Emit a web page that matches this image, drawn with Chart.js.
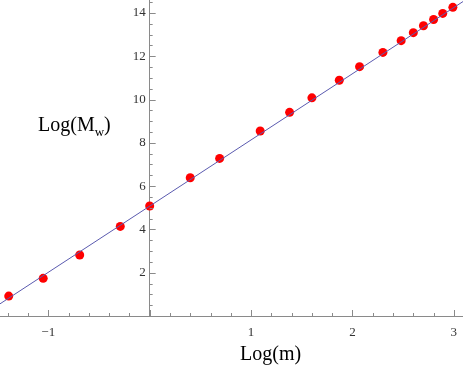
<!DOCTYPE html>
<html>
<head>
<meta charset="utf-8">
<script src="https://cdn.jsdelivr.net/npm/chart.js@4"></script>
<style>
    html, body { margin: 0; padding: 0; background: #fff; }
    #wrap { position: relative; width: 463px; height: 367px; }
    .axis-title {
        position: absolute;
        font-family: 'Liberation Serif', 'DejaVu Serif', serif;
        font-size: 20px;
        color: #000;
        white-space: nowrap;
        line-height: 1;
    }
    .axis-title sub { font-size: 13px; vertical-align: -5px; }
</style>
</head>
<body>
<div id="wrap">
    <canvas id="chart" width="463" height="367"></canvas>
    <div class="axis-title" style="left:38px; top:114px;">Log(M<sub>w</sub>)</div>
    <div class="axis-title" style="left:240px; top:343px;">Log(m)</div>
</div>
<script>
const logM  = [-1.39, -1.05, -0.69, -0.29, 0.00, 0.40, 0.69, 1.09, 1.38, 1.60, 1.87, 2.07, 2.30, 2.48, 2.60, 2.70, 2.80, 2.89, 2.99];
const logMw = [0.92, 1.74, 2.82, 4.14, 5.08, 6.39, 7.28, 8.55, 9.41, 10.08, 10.89, 11.52, 12.18, 12.72, 13.09, 13.41, 13.70, 13.98, 14.26];

// fitted straight line, its two ends
const fitX = [-1.48, 3.12];
const fitY = [0.55, 14.62];

// tick labels
const xTickLabels = [-1, 1, 2, 3];
const yTickLabels = [2, 4, 6, 8, 10, 12, 14];

const AXIS_COLOR = '#8a8a8a';
const LABEL_FONT = { family: "'Liberation Serif', serif", size: 13 };

// floating axes still push the plot area in by half a label, drop that
function noScalePadding(scale) {
    scale.paddingTop = 0;
    scale.paddingBottom = 0;
    scale.paddingLeft = 0;
    scale.paddingRight = 0;
}

// y labels on a floating axis sit flush on the line, move them off a bit
const yLabelGap = {
    id: 'yLabelGap',
    beforeDraw(chart) {
        const ys = chart.scales.y;
        if (!ys._computeLabelItems) return;
        ys._labelItems = ys._computeLabelItems(chart.chartArea);
        ys._labelItems.forEach(item => { item.options.translation[0] -= 4; });
    }
};

// Mathematica style inward tick marks (major + minor)
const innerTicks = {
    id: 'innerTicks',
    afterDatasetsDraw(chart) {
        const ctx = chart.ctx;
        const xs = chart.scales.x, ys = chart.scales.y;
        const x0 = xs.getPixelForValue(0);
        const y0 = ys.getPixelForValue(0);
        ctx.save();
        ctx.strokeStyle = AXIS_COLOR;
        ctx.lineWidth = 1;
        ctx.beginPath();
        for (let i = Math.ceil(xs.min / 0.2); i * 0.2 <= xs.max; i++) {
            const v = i * 0.2;
            const major = i % 5 === 0;
            const px = Math.round(xs.getPixelForValue(v)) + 0.5;
            ctx.moveTo(px, y0);
            ctx.lineTo(px, y0 - (major ? 6 : 3));
        }
        for (let i = 1; i * 0.5 <= ys.max; i++) {
            const v = i * 0.5;
            const major = i % 4 === 0;
            const py = Math.round(ys.getPixelForValue(v)) + 0.5;
            ctx.moveTo(x0, py);
            ctx.lineTo(x0 + (major ? 6 : 3), py);
        }
        ctx.stroke();
        ctx.restore();
    }
};

new Chart(document.getElementById('chart'), {
    type: 'scatter',
    data: {
        datasets: [
            {
                type: 'line',
                data: fitX.map((x, i) => ({ x: x, y: fitY[i] })),
                borderColor: 'rgb(90, 90, 175)',
                borderWidth: 1,
                pointRadius: 0,
                fill: false,
                order: 0
            },
            {
                data: logM.map((x, i) => ({ x: x, y: logMw[i] })),
                backgroundColor: '#ff0000',
                borderWidth: 0,
                pointRadius: 4.5,
                order: 1
            }
        ]
    },
    options: {
        responsive: false,
        animation: false,
        layout: { autoPadding: false, padding: { left: 0, right: 0, top: 0, bottom: 51 } },
        plugins: {
            legend: { display: false },
            tooltip: { enabled: false }
        },
        scales: {
            x: {
                type: 'linear',
                position: { y: 0 },
                min: -1.476,
                max: 3.09,
                afterBuildTicks: (scale) => { scale.ticks = xTickLabels.map(v => ({ value: v })); },
                afterFit: noScalePadding,
                grid: { display: false, drawTicks: true, tickLength: 6 },
                border: { display: true, color: AXIS_COLOR, width: 1 },
                ticks: {
                    color: '#333',
                    font: LABEL_FONT,
                    padding: 3,
                    maxRotation: 0,
                    autoSkip: false,
                    callback: (v) => (v < 0 ? '\u2212' + Math.abs(v) : String(v))
                }
            },
            y: {
                type: 'linear',
                position: { x: 0 },
                min: 0,
                max: 14.6,
                afterBuildTicks: (scale) => { scale.ticks = yTickLabels.map(v => ({ value: v })); },
                afterFit: noScalePadding,
                grid: { display: false, drawTicks: true, tickLength: 8 },
                border: { display: true, color: AXIS_COLOR, width: 1 },
                ticks: {
                    color: '#333',
                    font: LABEL_FONT,
                    padding: 3,
                    autoSkip: false,
                    callback: (v) => String(v)
                }
            }
        }
    },
    plugins: [innerTicks, yLabelGap]
});
</script>
</body>
</html>
